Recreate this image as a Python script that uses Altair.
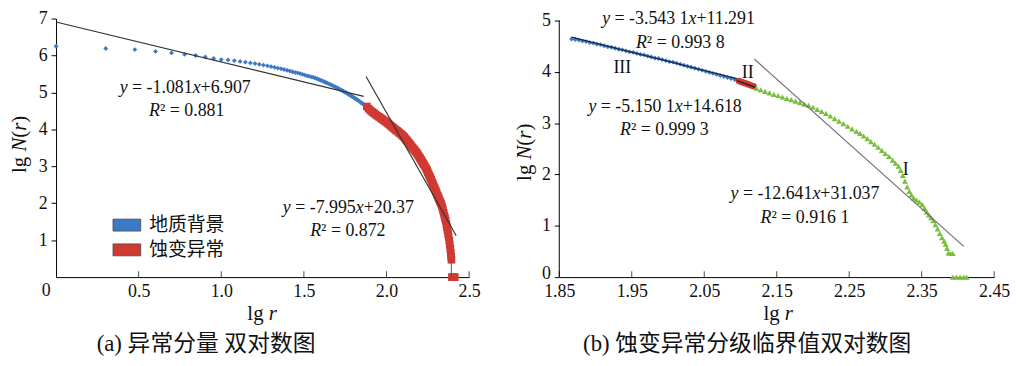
import altair as alt
import pandas as pd

BLUE = "#3b7ac6"
RED = "#cf3a33"
GREEN = "#79be3f"
SERIF = "Liberation Serif"
CJK = "Noto Sans CJK SC"
MIX = "Liberation Serif, Noto Sans CJK SC"
INK = "#111111"

# ---------------- panel (a) data ----------------
a_bg_lgr = [0.000, 0.301, 0.477, 0.602, 0.699, 0.778, 0.845, 0.903, 0.954, 1.000,
            1.041, 1.079, 1.114, 1.146, 1.176, 1.204, 1.230, 1.255, 1.279, 1.301,
            1.322, 1.342, 1.362, 1.380, 1.398, 1.415, 1.431, 1.447, 1.462, 1.477,
            1.491, 1.505, 1.519, 1.531, 1.544, 1.556, 1.568, 1.580, 1.591, 1.602,
            1.613, 1.623, 1.633, 1.643, 1.653, 1.663, 1.672, 1.681, 1.690, 1.699,
            1.708, 1.716, 1.724, 1.732, 1.740, 1.748, 1.756, 1.763, 1.771, 1.778,
            1.785, 1.792, 1.799, 1.806, 1.813, 1.820, 1.826, 1.833, 1.839, 1.845,
            1.851, 1.857, 1.863, 1.869, 1.875]
a_bg_lgn = [6.25, 6.19, 6.16, 6.11, 6.07, 6.03, 6.00, 5.96, 5.92, 5.89,
            5.88, 5.86, 5.84, 5.82, 5.80, 5.78, 5.76, 5.74, 5.72, 5.70,
            5.68, 5.66, 5.64, 5.62, 5.60, 5.58, 5.56, 5.54, 5.53, 5.51,
            5.49, 5.47, 5.45, 5.44, 5.42, 5.41, 5.39, 5.37, 5.35, 5.33,
            5.31, 5.29, 5.27, 5.25, 5.23, 5.21, 5.19, 5.17, 5.15, 5.13,
            5.11, 5.09, 5.07, 5.05, 5.03, 5.01, 4.99, 4.97, 4.95, 4.93,
            4.91, 4.89, 4.87, 4.85, 4.83, 4.81, 4.79, 4.77, 4.75, 4.73,
            4.71, 4.69, 4.67, 4.65, 4.63]

a_alt_lgr = [1.881, 1.892, 1.903, 1.914, 1.924, 1.934, 1.944, 1.954, 1.964, 1.973,
             1.982, 1.991, 2.000, 2.009, 2.017, 2.025, 2.033, 2.041, 2.049, 2.057,
             2.064, 2.072, 2.079, 2.086, 2.093, 2.100, 2.107, 2.114, 2.121, 2.127,
             2.134, 2.140, 2.146, 2.152, 2.158, 2.164, 2.170, 2.176, 2.182, 2.188,
             2.193, 2.199, 2.204, 2.210, 2.215, 2.220, 2.225, 2.230, 2.236, 2.241,
             2.246, 2.250, 2.255, 2.260, 2.265, 2.270, 2.274, 2.279, 2.283, 2.288,
             2.292, 2.297, 2.301, 2.305, 2.310, 2.314, 2.318, 2.322, 2.326, 2.330,
             2.334, 2.338, 2.342, 2.346, 2.350, 2.354, 2.358, 2.362, 2.365, 2.369,
             2.373, 2.376, 2.380, 2.383, 2.386, 2.389, 2.391, 2.393,
             2.396, 2.405, 2.413]
a_alt_lgn = [4.62, 4.56, 4.51, 4.47, 4.44, 4.40, 4.37, 4.34, 4.31, 4.28,
             4.25, 4.22, 4.19, 4.16, 4.13, 4.10, 4.07, 4.04, 4.01, 3.98,
             3.96, 3.93, 3.90, 3.88, 3.85, 3.82, 3.79, 3.75, 3.71, 3.68,
             3.64, 3.61, 3.57, 3.54, 3.50, 3.47, 3.44, 3.40, 3.37, 3.33,
             3.29, 3.25, 3.21, 3.17, 3.13, 3.09, 3.06, 3.02, 2.97, 2.93,
             2.89, 2.84, 2.79, 2.74, 2.69, 2.64, 2.59, 2.54, 2.49, 2.44,
             2.40, 2.35, 2.30, 2.25, 2.20, 2.16, 2.11, 2.07, 2.03, 1.99,
             1.94, 1.88, 1.81, 1.74, 1.67, 1.60, 1.53, 1.44, 1.36, 1.27,
             1.18, 1.09, 0.99, 0.88, 0.77, 0.66, 0.56, 0.47,
             0.00, 0.00, 0.00]

a_fit1_lgr = [0.0, 1.862]
a_fit1_lgn = [6.907, 4.894]
a_fit2_lgr = [1.876, 2.422]
a_fit2_lgn = [5.43, 1.12]
a_drop_lgr = [2.392]
a_drop_lgn = [0.47]

a_x_ticks = [0.5, 1.0, 1.5, 2.0, 2.5]
a_y_ticks = [1, 2, 3, 4, 5, 6, 7]
a_groups = ["地质背景", "蚀变异常"]

# ---------------- panel (b) data ----------------
b3_lgr = [1.867, 1.872, 1.877, 1.882, 1.887, 1.892, 1.897, 1.902, 1.907, 1.912,
          1.917, 1.922, 1.927, 1.932, 1.937, 1.942, 1.947, 1.952, 1.957, 1.962,
          1.967, 1.972, 1.977, 1.982, 1.987, 1.992, 1.997, 2.002, 2.007, 2.012,
          2.017, 2.022, 2.027, 2.032, 2.037, 2.042, 2.047, 2.052, 2.057, 2.062,
          2.067, 2.072, 2.077, 2.082, 2.087, 2.092, 2.096]
b3_lgn = [4.64, 4.63, 4.62, 4.60, 4.59, 4.57, 4.56, 4.54, 4.53, 4.51,
          4.49, 4.48, 4.46, 4.44, 4.43, 4.41, 4.39, 4.38, 4.36, 4.34,
          4.33, 4.31, 4.29, 4.27, 4.26, 4.24, 4.22, 4.20, 4.19, 4.17,
          4.15, 4.13, 4.11, 4.09, 4.07, 4.05, 4.03, 4.01, 3.99, 3.97,
          3.95, 3.93, 3.91, 3.89, 3.87, 3.85, 3.83]
b2_lgr = [2.098, 2.102, 2.106, 2.110, 2.114, 2.118]
b2_lgn = [3.82, 3.80, 3.78, 3.76, 3.74, 3.72]
b1_lgr = [2.122, 2.128, 2.134, 2.140, 2.146, 2.152, 2.158, 2.164, 2.170, 2.176,
          2.182, 2.188, 2.194, 2.200, 2.206, 2.212, 2.218, 2.224, 2.230, 2.236,
          2.242, 2.248, 2.254, 2.260, 2.265, 2.270, 2.275, 2.280, 2.285, 2.290,
          2.295, 2.300, 2.305, 2.310, 2.314, 2.318, 2.321, 2.324, 2.327, 2.330,
          2.333, 2.336, 2.339, 2.343, 2.347, 2.351, 2.354, 2.357, 2.360, 2.363,
          2.366, 2.369, 2.372, 2.375, 2.378, 2.381, 2.383, 2.385, 2.387, 2.390,
          2.393, 2.393, 2.398, 2.403, 2.408, 2.412]
b1_lgn = [3.68, 3.65, 3.62, 3.59, 3.56, 3.54, 3.51, 3.48, 3.46, 3.43,
          3.40, 3.37, 3.35, 3.31, 3.27, 3.23, 3.19, 3.14, 3.09, 3.04,
          2.99, 2.94, 2.89, 2.84, 2.80, 2.75, 2.70, 2.64, 2.59, 2.53,
          2.47, 2.41, 2.35, 2.28, 2.22, 2.16, 2.08, 1.98, 1.87, 1.76,
          1.67, 1.60, 1.54, 1.50, 1.46, 1.41, 1.34, 1.27, 1.21, 1.16,
          1.10, 1.02, 0.94, 0.85, 0.77, 0.70, 0.64, 0.56, 0.47, 0.46,
          0.46, 0.00, 0.00, 0.00, 0.00, 0.00]
b_fit3_lgr = [1.867, 2.095]
b_fit3_lgn = [4.676, 3.868]
b_fit2_lgr = [2.095, 2.120]
b_fit2_lgn = [3.829, 3.700]
b_fit1_lgr = [2.119, 2.408]
b_fit1_lgn = [4.251, 0.598]

b_x_ticks = [1.85, 1.95, 2.05, 2.15, 2.25, 2.35, 2.45]
b_y_ticks = [0, 1, 2, 3, 4, 5]

# ---------------- text helpers ----------------
REG = {' ': 0.25, '=': 0.564, '-': 0.333, '.': 0.25, '+': 0.564, '²': 0.3,
       'l': 0.278, 'g': 0.5, '(': 0.333, ')': 0.333, 'I': 0.333}
ITA = {'y': 0.444, 'x': 0.444, 'R': 0.611, 'r': 0.389, 'N': 0.667}


def seg_w(s, italic, size):
    tbl = ITA if italic else REG
    return sum(tbl.get(c, 0.5) for c in s) * size


def rich(segs, size, xenc, yenc, data, angle=None):
    """Mixed italic/roman text: one text mark per run, laid out left to right."""
    total = sum(seg_w(s, i, size) for s, i in segs)
    pos = -total / 2
    out = []
    for s, i in segs:
        lead = len(s) - len(s.lstrip(" "))
        txt = s.strip(" ")
        kw = dict(text=txt, align="left", baseline="middle", font=SERIF,
                  fontSize=size, fontStyle="italic" if i else "normal",
                  color=INK, dx=pos + seg_w(" " * lead, False, size))
        if angle is not None:
            kw["angle"] = angle
        if txt:
            out.append(alt.Chart(data).mark_text(**kw).encode(x=xenc, y=yenc))
        pos += seg_w(s, i, size)
    return out


def df(xs, ys):
    return pd.DataFrame({"x": xs, "y": ys})


ONE = pd.DataFrame({"k": [0]})
EQ = 18
PH = 261  # plot height

# ---------------- panel (a) ----------------
sxa = alt.Scale(domain=[0, 2.5], nice=False, zero=False)
sya = alt.Scale(domain=[0, 7], nice=False, zero=True)
XA = alt.X("x:Q", scale=sxa, axis=alt.Axis(values=a_x_ticks, format=".1f", title=None,
           ticks=False, labelPadding=6, labelFlush=False, grid=False))
YA = alt.Y("y:Q", scale=sya, axis=alt.Axis(values=a_y_ticks, title=None, tickSize=5,
           labelPadding=4, labelFlush=False, grid=False))

a_df_bg = pd.DataFrame({"x": a_bg_lgr, "y": a_bg_lgn, "g": a_groups[0]})
a_df_alt = pd.DataFrame({"x": a_alt_lgr, "y": a_alt_lgn, "g": a_groups[1]})
color_a = alt.Color("g:N", scale=alt.Scale(domain=a_groups, range=[BLUE, RED]),
                    legend=alt.Legend(title=None, orient="none", legendX=57, legendY=194,
                                      symbolType="M-1,-0.43L1,-0.43L1,0.43L-1,0.43Z",
                                      symbolSize=784, symbolStrokeColor="#4a4a4a",
                                      symbolStrokeWidth=0.8, symbolOpacity=1,
                                      labelFont=CJK, labelFontSize=19, labelColor=INK,
                                      labelOffset=8, rowPadding=-8, padding=0))

a_layers = [
    alt.Chart(a_df_bg).mark_point(filled=True, shape="diamond", size=24, opacity=1)
    .encode(x=XA, y=YA, color=color_a),
    alt.Chart(a_df_alt).mark_point(filled=True, shape="square", size=60, opacity=1)
    .encode(x=XA, y=YA, color=color_a),
    alt.Chart(df(a_fit1_lgr, a_fit1_lgn)).mark_line(color="#333333", strokeWidth=1.2)
    .encode(x=XA, y=YA),
    alt.Chart(df(a_fit2_lgr, a_fit2_lgn)).mark_line(color="#333333", strokeWidth=1.2)
    .encode(x=XA, y=YA),
    alt.Chart(pd.DataFrame({"x": a_drop_lgr, "y": [0], "y2": a_drop_lgn}))
    .mark_rule(color="#555555", strokeWidth=1).encode(x=XA, y=YA, y2="y2:Q"),
    alt.Chart(df(a_x_ticks, [0] * len(a_x_ticks)))
    .mark_tick(orient="vertical", size=6, thickness=1, color="black", yOffset=-3)
    .encode(x=XA, y=YA),
    alt.Chart(df([0], [0])).mark_text(text="0", font=SERIF, fontSize=18, color=INK,
                                      dx=-10, dy=14, baseline="middle")
    .encode(x=XA, y=YA),
]
a_layers += rich([("y", True), (" = -1.081", False), ("x", True), ("+6.907", False)],
                 EQ, XA, YA, df([0.782], [5.13]))
a_layers += rich([("R", True), ("² = 0.881", False)], EQ, XA, YA, df([0.791], [4.50]))
a_layers += rich([("y", True), (" = -7.995", False), ("x", True), ("+20.37", False)],
                 EQ, XA, YA, df([1.769], [1.87]))
a_layers += rich([("R", True), ("² = 0.872", False)], EQ, XA, YA, df([1.766], [1.26]))
a_layers += rich([("lg ", False), ("r", True)], 21, alt.value(208), alt.value(298), ONE)
a_layers += rich([("lg ", False), ("N", True), ("(", False), ("r", True), (")", False)],
                 21, alt.value(-36), alt.value(127), ONE, angle=270)
a_layers.append(alt.Chart(ONE).mark_text(text="(a) 异常分量 双对数图", font=MIX, fontSize=23,
                                         color=INK, align="left", baseline="middle")
                .encode(x=alt.value(41), y=alt.value(329)))

panel_a = alt.layer(*a_layers).properties(width=417, height=PH)

# ---------------- panel (b) ----------------
sxb = alt.Scale(domain=[1.85, 2.45], nice=False, zero=False)
syb = alt.Scale(domain=[0, 5.039], nice=False, zero=True)
XB = alt.X("x:Q", scale=sxb, axis=alt.Axis(values=b_x_ticks, format=".2f", title=None,
           ticks=False, labelPadding=6, labelFlush=False, grid=False))
YB = alt.Y("y:Q", scale=syb, axis=alt.Axis(
    values=b_y_ticks, title=None, tickSize=5, labelPadding=4, labelFlush=False,
    grid=False, domain=False,
    labelOffset={"condition": {"test": "datum.value == 0", "value": -4}, "value": 0}))

b_layers = [
    alt.Chart(pd.DataFrame({"x": [1.85], "y": [0], "y2": [5]}))
    .mark_rule(color="black", strokeWidth=1).encode(x=XB, y=YB, y2="y2:Q"),
    alt.Chart(df(b3_lgr, b3_lgn)).mark_point(filled=True, shape="diamond", size=24,
                                             opacity=1, color=BLUE).encode(x=XB, y=YB),
    alt.Chart(df(b2_lgr, b2_lgn)).mark_point(filled=True, shape="circle", size=45,
                                             opacity=1, color=RED).encode(x=XB, y=YB),
    alt.Chart(df(b1_lgr, b1_lgn)).mark_point(filled=True, shape="triangle-up", size=36,
                                             opacity=1, color=GREEN).encode(x=XB, y=YB),
    alt.Chart(df(b_fit3_lgr, b_fit3_lgn)).mark_line(color="#1b2740", strokeWidth=1.4)
    .encode(x=XB, y=YB),
    alt.Chart(df(b_fit2_lgr, b_fit2_lgn)).mark_line(color="#222222", strokeWidth=1.4)
    .encode(x=XB, y=YB),
    alt.Chart(df(b_fit1_lgr, b_fit1_lgn)).mark_line(color="#6e6e6e", strokeWidth=1.2)
    .encode(x=XB, y=YB),
    alt.Chart(df(b_x_ticks, [0] * len(b_x_ticks)))
    .mark_tick(orient="vertical", size=6, thickness=1, color="black", yOffset=-3)
    .encode(x=XB, y=YB),
]
b_layers += rich([("y", True), (" = -3.543 1", False), ("x", True), ("+11.291", False)],
                 EQ, XB, YB, df([2.015], [5.03]))
b_layers += rich([("R", True), ("² = 0.993 8", False)], EQ, XB, YB, df([2.017], [4.56]))
b_layers += rich([("III", False)], EQ, XB, YB, df([1.937], [4.08]))
b_layers += rich([("II", False)], EQ, XB, YB, df([2.110], [3.98]))
b_layers += rich([("y", True), (" = -5.150 1", False), ("x", True), ("+14.618", False)],
                 EQ, XB, YB, df([1.996], [3.31]))
b_layers += rich([("R", True), ("² = 0.999 3", False)], EQ, XB, YB, df([1.995], [2.86]))
b_layers += rich([("I", False)], EQ, XB, YB, df([2.328], [2.09]))
b_layers += rich([("y", True), (" = -12.641", False), ("x", True), ("+31.037", False)],
                 EQ, XB, YB, df([2.189], [1.61]))
b_layers += rich([("R", True), ("² = 0.916 1", False)], EQ, XB, YB, df([2.189], [1.16]))
b_layers += rich([("lg ", False), ("r", True)], 21, alt.value(221), alt.value(298), ONE)
b_layers += rich([("lg ", False), ("N", True), ("(", False), ("r", True), (")", False)],
                 21, alt.value(-35), alt.value(135), ONE, angle=270)
b_layers.append(alt.Chart(ONE).mark_text(text="(b) 蚀变异常分级临界值双对数图", font=MIX,
                                         fontSize=23, color=INK, align="left",
                                         baseline="middle")
                .encode(x=alt.value(24), y=alt.value(329)))

panel_b = alt.layer(*b_layers).properties(width=439, height=PH)

chart = (
    alt.hconcat(panel_a, panel_b, spacing=33)
    .properties(padding={"left": 1.5, "top": 0, "right": 0, "bottom": 0})
    .configure_view(stroke=None)
    .configure_axis(labelFont=SERIF, labelFontSize=18, labelColor=INK,
                    domainColor="black", tickColor="black", grid=False)
)

chart.save("out.html", embed_options={"renderer": "svg", "actions": False})
